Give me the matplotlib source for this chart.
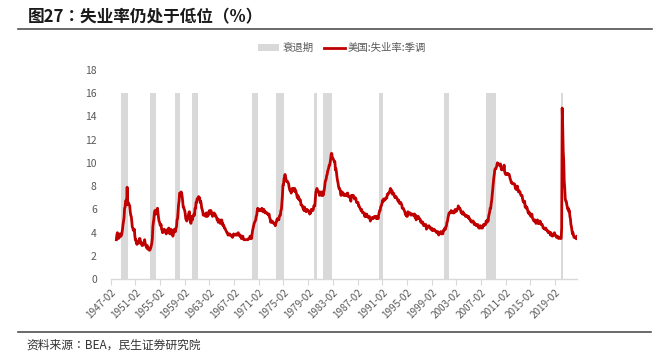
import matplotlib
matplotlib.use("Agg")
import matplotlib.pyplot as plt
import numpy as np
from matplotlib.patches import Patch
from matplotlib.lines import Line2D

plt.rcParams['font.family'] = ['Noto Sans CJK SC', 'DejaVu Sans']

# US unemployment rate, seasonally adjusted, monthly, starting 1948-01
start_year = 1948
unrate = [
    3.4, 3.8, 4.0, 3.9, 3.5, 3.6, 3.6, 3.9, 3.8, 3.7, 3.8, 4.0,   # 1948
    4.3, 4.7, 5.0, 5.3, 6.1, 6.2, 6.7, 6.8, 6.6, 7.9, 6.4, 6.6,   # 1949
    6.5, 6.4, 6.3, 5.8, 5.5, 5.4, 5.0, 4.5, 4.4, 4.2, 4.2, 4.3,   # 1950
    3.7, 3.4, 3.4, 3.1, 3.0, 3.2, 3.1, 3.1, 3.3, 3.5, 3.5, 3.1,   # 1951
    3.2, 3.1, 2.9, 2.9, 3.0, 3.0, 3.2, 3.4, 3.1, 3.0, 2.8, 2.7,   # 1952
    2.9, 2.6, 2.6, 2.7, 2.5, 2.5, 2.6, 2.7, 2.9, 3.1, 3.5, 4.5,   # 1953
    4.9, 5.2, 5.7, 5.9, 5.9, 5.6, 5.8, 6.0, 6.1, 5.7, 5.3, 5.0,   # 1954
    4.9, 4.7, 4.6, 4.7, 4.3, 4.2, 4.0, 4.2, 4.1, 4.3, 4.2, 4.2,   # 1955
    4.0, 3.9, 4.2, 4.0, 4.3, 4.3, 4.4, 4.1, 3.9, 3.9, 4.3, 4.2,   # 1956
    4.2, 3.9, 3.7, 3.9, 4.1, 4.3, 4.2, 4.1, 4.4, 4.5, 5.1, 5.2,   # 1957
    5.8, 6.4, 6.7, 7.4, 7.4, 7.3, 7.5, 7.4, 7.1, 6.7, 6.2, 6.2,   # 1958
    6.0, 5.9, 5.6, 5.2, 5.1, 5.0, 5.1, 5.2, 5.5, 5.7, 5.8, 5.3,   # 1959
    5.2, 4.8, 5.4, 5.2, 5.1, 5.4, 5.5, 5.6, 5.5, 6.1, 6.1, 6.6,   # 1960
    6.6, 6.9, 6.9, 7.0, 7.1, 6.9, 7.0, 6.6, 6.7, 6.5, 6.1, 6.0,   # 1961
    5.8, 5.5, 5.6, 5.6, 5.5, 5.5, 5.4, 5.7, 5.6, 5.4, 5.7, 5.5,   # 1962
    5.7, 5.9, 5.7, 5.7, 5.9, 5.6, 5.6, 5.4, 5.5, 5.5, 5.7, 5.5,   # 1963
    5.6, 5.4, 5.4, 5.3, 5.1, 5.2, 4.9, 5.0, 5.1, 5.1, 4.8, 5.0,   # 1964
    4.9, 5.1, 4.7, 4.8, 4.6, 4.6, 4.4, 4.4, 4.3, 4.2, 4.1, 4.0,   # 1965
    4.0, 3.8, 3.8, 3.8, 3.9, 3.8, 3.8, 3.8, 3.7, 3.7, 3.6, 3.8,   # 1966
    3.9, 3.8, 3.8, 3.8, 3.8, 3.9, 3.8, 3.8, 3.8, 4.0, 3.9, 3.8,   # 1967
    3.7, 3.8, 3.7, 3.5, 3.5, 3.7, 3.7, 3.5, 3.4, 3.4, 3.4, 3.4,   # 1968
    3.4, 3.4, 3.4, 3.4, 3.4, 3.5, 3.5, 3.5, 3.7, 3.7, 3.5, 3.5,   # 1969
    3.9, 4.2, 4.4, 4.6, 4.8, 4.9, 5.0, 5.1, 5.4, 5.5, 5.9, 6.1,   # 1970
    5.9, 5.9, 6.0, 5.9, 5.9, 5.9, 6.0, 6.1, 6.0, 5.8, 6.0, 6.0,   # 1971
    5.8, 5.7, 5.8, 5.7, 5.7, 5.7, 5.6, 5.6, 5.5, 5.6, 5.3, 5.2,   # 1972
    4.9, 5.0, 4.9, 5.0, 4.9, 4.9, 4.8, 4.8, 4.8, 4.6, 4.8, 4.9,   # 1973
    5.1, 5.2, 5.1, 5.1, 5.1, 5.4, 5.5, 5.5, 5.9, 6.0, 6.6, 7.2,   # 1974
    8.1, 8.1, 8.6, 8.8, 9.0, 8.8, 8.6, 8.4, 8.4, 8.4, 8.3, 8.2,   # 1975
    7.9, 7.7, 7.6, 7.7, 7.4, 7.6, 7.8, 7.8, 7.6, 7.7, 7.8, 7.8,   # 1976
    7.5, 7.6, 7.4, 7.2, 7.0, 7.2, 6.9, 7.0, 6.8, 6.8, 6.8, 6.4,   # 1977
    6.4, 6.3, 6.3, 6.1, 6.0, 5.9, 6.2, 5.9, 6.0, 5.8, 5.9, 6.0,   # 1978
    5.9, 5.9, 5.8, 5.8, 5.6, 5.7, 5.7, 6.0, 5.9, 6.0, 5.9, 6.0,   # 1979
    6.3, 6.3, 6.3, 6.9, 7.5, 7.6, 7.8, 7.7, 7.5, 7.5, 7.5, 7.2,   # 1980
    7.5, 7.4, 7.4, 7.2, 7.5, 7.5, 7.2, 7.4, 7.6, 7.9, 8.3, 8.5,   # 1981
    8.6, 8.9, 9.0, 9.3, 9.4, 9.6, 9.8, 9.8, 10.1, 10.4, 10.8, 10.8,  # 1982
    10.4, 10.4, 10.3, 10.2, 10.1, 10.1, 9.4, 9.5, 9.2, 8.8, 8.5, 8.3,  # 1983
    8.0, 7.8, 7.8, 7.7, 7.4, 7.2, 7.5, 7.5, 7.3, 7.4, 7.2, 7.3,   # 1984
    7.3, 7.2, 7.2, 7.3, 7.2, 7.4, 7.4, 7.1, 7.1, 7.1, 7.0, 7.0,   # 1985
    6.7, 7.2, 7.2, 7.1, 7.2, 7.2, 7.0, 6.9, 7.0, 7.0, 6.9, 6.6,   # 1986
    6.6, 6.6, 6.6, 6.3, 6.3, 6.2, 6.1, 6.0, 5.9, 6.0, 5.8, 5.7,   # 1987
    5.7, 5.7, 5.7, 5.4, 5.6, 5.4, 5.4, 5.6, 5.4, 5.4, 5.3, 5.3,   # 1988
    5.4, 5.2, 5.0, 5.2, 5.2, 5.3, 5.2, 5.2, 5.3, 5.3, 5.4, 5.4,   # 1989
    5.4, 5.3, 5.2, 5.4, 5.4, 5.2, 5.5, 5.7, 5.9, 5.9, 6.2, 6.3,   # 1990
    6.4, 6.6, 6.8, 6.7, 6.9, 6.9, 6.8, 6.9, 6.9, 7.0, 7.0, 7.3,   # 1991
    7.3, 7.4, 7.4, 7.4, 7.6, 7.8, 7.7, 7.6, 7.6, 7.3, 7.4, 7.4,   # 1992
    7.3, 7.1, 7.0, 7.1, 7.1, 7.0, 6.9, 6.8, 6.7, 6.8, 6.6, 6.5,   # 1993
    6.6, 6.6, 6.5, 6.4, 6.1, 6.1, 6.1, 6.0, 5.9, 5.8, 5.6, 5.5,   # 1994
    5.6, 5.4, 5.4, 5.8, 5.6, 5.6, 5.7, 5.7, 5.6, 5.5, 5.6, 5.6,   # 1995
    5.6, 5.5, 5.5, 5.6, 5.6, 5.3, 5.5, 5.1, 5.2, 5.2, 5.4, 5.4,   # 1996
    5.3, 5.2, 5.2, 5.1, 4.9, 5.0, 4.9, 4.8, 4.9, 4.7, 4.6, 4.7,   # 1997
    4.6, 4.6, 4.7, 4.3, 4.4, 4.5, 4.5, 4.5, 4.6, 4.5, 4.4, 4.4,   # 1998
    4.3, 4.4, 4.2, 4.3, 4.2, 4.3, 4.3, 4.2, 4.2, 4.1, 4.1, 4.0,   # 1999
    4.0, 4.1, 4.0, 3.8, 4.0, 4.0, 4.0, 4.1, 3.9, 3.9, 3.9, 3.9,   # 2000
    4.2, 4.2, 4.3, 4.4, 4.3, 4.5, 4.6, 4.9, 5.0, 5.3, 5.5, 5.7,   # 2001
    5.7, 5.7, 5.7, 5.9, 5.8, 5.8, 5.8, 5.7, 5.7, 5.7, 5.9, 6.0,   # 2002
    5.8, 5.9, 5.9, 6.0, 6.1, 6.3, 6.2, 6.1, 6.1, 6.0, 5.8, 5.7,   # 2003
    5.7, 5.6, 5.8, 5.6, 5.6, 5.6, 5.5, 5.4, 5.4, 5.5, 5.4, 5.4,   # 2004
    5.3, 5.4, 5.2, 5.2, 5.1, 5.0, 5.0, 4.9, 5.0, 5.0, 5.0, 4.9,   # 2005
    4.7, 4.8, 4.7, 4.7, 4.6, 4.6, 4.7, 4.7, 4.5, 4.4, 4.5, 4.4,   # 2006
    4.6, 4.5, 4.4, 4.5, 4.4, 4.6, 4.7, 4.6, 4.7, 4.7, 4.7, 5.0,   # 2007
    5.0, 4.9, 5.1, 5.0, 5.4, 5.6, 5.8, 6.1, 6.1, 6.5, 6.8, 7.3,   # 2008
    7.8, 8.3, 8.7, 9.0, 9.4, 9.5, 9.5, 9.6, 9.8, 10.0, 9.9, 9.9,  # 2009
    9.8, 9.8, 9.9, 9.9, 9.6, 9.4, 9.4, 9.5, 9.5, 9.4, 9.8, 9.3,   # 2010
    9.1, 9.0, 9.0, 9.1, 9.0, 9.1, 9.0, 9.0, 9.0, 8.8, 8.6, 8.5,   # 2011
    8.3, 8.3, 8.2, 8.2, 8.2, 8.2, 8.2, 8.1, 7.8, 7.8, 7.7, 7.9,   # 2012
    8.0, 7.7, 7.5, 7.6, 7.5, 7.5, 7.3, 7.2, 7.2, 7.2, 6.9, 6.7,   # 2013
    6.6, 6.7, 6.7, 6.2, 6.3, 6.1, 6.2, 6.1, 5.9, 5.7, 5.8, 5.6,   # 2014
    5.7, 5.5, 5.4, 5.4, 5.6, 5.3, 5.2, 5.1, 5.0, 5.0, 5.1, 5.0,   # 2015
    4.8, 4.9, 5.0, 5.1, 4.8, 4.9, 4.8, 4.9, 5.0, 4.9, 4.7, 4.7,   # 2016
    4.7, 4.6, 4.4, 4.4, 4.4, 4.3, 4.3, 4.4, 4.3, 4.2, 4.2, 4.1,   # 2017
    4.0, 4.1, 4.0, 4.0, 3.8, 4.0, 3.8, 3.8, 3.7, 3.8, 3.8, 3.9,   # 2018
    4.0, 3.8, 3.8, 3.7, 3.6, 3.6, 3.7, 3.6, 3.5, 3.6, 3.6, 3.6,   # 2019
    3.5, 3.5, 4.4, 14.7, 13.2, 11.0, 10.2, 8.4, 7.8, 6.9, 6.7, 6.7,  # 2020
    6.4, 6.2, 6.0, 6.1, 5.8, 5.9, 5.4, 5.2, 4.7, 4.5, 4.2, 3.9,   # 2021
    4.0, 3.8, 3.6, 3.6, 3.6, 3.6, 3.5, 3.7, 3.5,                  # 2022
]

# NBER recessions (start year, start month, end year, end month)
rec_start = [(1948, 11), (1953, 7), (1957, 8), (1960, 4), (1969, 12), (1973, 11),
             (1980, 1), (1981, 7), (1990, 7), (2001, 3), (2007, 12), (2020, 2)]
rec_end = [(1949, 10), (1954, 5), (1958, 4), (1961, 2), (1970, 11), (1975, 3),
           (1980, 7), (1982, 11), (1991, 3), (2001, 11), (2009, 6), (2020, 4)]
rec_height = 16

tick_years = list(range(1947, 2020, 4))
tick_labels = [f"{y}-02" for y in tick_years]

def dec(y, m):
    return y + (m - 1) / 12.0

x = np.array([start_year + i / 12.0 for i in range(len(unrate))])
y = np.array(unrate)

fig = plt.figure(figsize=(6.66, 3.61), dpi=100)
ax = fig.add_axes([0.1662, 0.2263, 0.7003, 0.5809])

grey = '#d9d9d9'
for (sy, sm), (ey, em) in zip(rec_start, rec_end):
    s = dec(sy, sm)
    e = dec(ey, em) + 1 / 12.0
    ax.bar(s, rec_height, width=e - s, align='edge', color=grey, linewidth=0, zorder=1)

ax.plot(x, y, color='#c00000', linewidth=2.0, zorder=3, solid_joinstyle='round')

ax.set_xlim(dec(1947, 2), x[-1])
ax.set_ylim(0, 18)
ax.set_yticks(np.arange(0, 19, 2))
ax.set_xticks([dec(t, 2) for t in tick_years])
ax.set_xticklabels(tick_labels, rotation=45, ha='right', va='top', rotation_mode='anchor')

for s in ['top', 'right', 'left']:
    ax.spines[s].set_visible(False)
ax.spines['bottom'].set_color(grey)
ax.spines['bottom'].set_linewidth(1.0)
ax.tick_params(axis='y', length=0, pad=10, labelsize=7.5, labelcolor='#595959')
ax.tick_params(axis='x', length=4, width=0.8, color=grey, pad=2, labelsize=7.2, labelcolor='#595959')

handles = [Patch(facecolor=grey, edgecolor='none'),
           Line2D([0], [0], color='#c00000', linewidth=2)]
fig.legend(handles, ['衰退期', '美国:失业率:季调'], loc='center', bbox_to_anchor=(0.514, 0.867),
           ncol=2, frameon=False, fontsize=7.5, handlelength=2.0, handleheight=0.6,
           columnspacing=1.0, handletextpad=0.3, labelcolor='#595959')

tc_font = ['Noto Sans CJK TC', 'DejaVu Sans']
kr_font = ['Noto Sans CJK KR', 'DejaVu Sans']
fig.text(0.042, 0.953, '图27：失业率仍处于低位（%）', fontsize=12, fontweight='bold',
         color='#1a1a1a', ha='left', va='center', family=tc_font)
fig.add_artist(Line2D([0.027, 0.979], [0.920, 0.920], color='#505050', linewidth=1.2))
fig.add_artist(Line2D([0.027, 0.978], [0.080, 0.080], color='#505050', linewidth=1.2))
fig.text(0.040, 0.044, '资料来源：BEA，民生证券研究院', fontsize=8.5, color='#333333',
         ha='left', va='center', family=kr_font)

fig.savefig('out.png', dpi=100)
